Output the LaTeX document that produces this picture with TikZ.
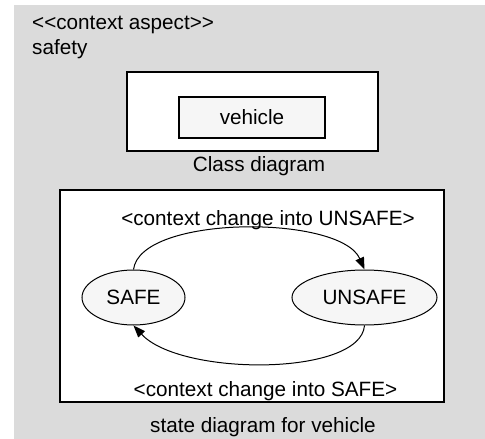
\documentclass[tikz,border=0pt]{standalone}
\usepackage{fontspec}
\setmainfont{Liberation Sans}
\usetikzlibrary{shapes.geometric,arrows.meta}
\definecolor{panelgray}{gray}{0.86}
\definecolor{statefill}{gray}{0.965}
\tikzset{
  lbl/.style={inner sep=0pt, font=\fontsize{20.7}{25}\selectfont},
  frame/.style={draw=black, line width=1.4pt, fill=white},
  classbox/.style={draw=black, line width=1.2pt, fill=statefill, minimum width=146pt, minimum height=41pt, inner sep=0pt, font=\fontsize{20.7}{25}\selectfont},
  statenode/.style={ellipse, draw=black, line width=1pt, fill=statefill, minimum height=55pt, inner sep=0pt, font=\fontsize{20.7}{25}\selectfont},
  trans/.style={draw=black, line width=1pt, -{Triangle[length=12pt,width=9pt]}}
}
\begin{document}
\begin{tikzpicture}[x=1pt,y=-1pt]
  \useasboundingbox (0,0) rectangle (485,439);
  % background panel of the context aspect
  \fill[panelgray] (14,5) rectangle (485,439);
  \node[lbl, anchor=west, align=left] (aspect) at (32,37) {{<}{<}context aspect{>}{>}\\safety};

  % class diagram
  \draw[frame] (127,72) rectangle (378,151);
  \node[classbox] (vehicle) at (252,117.5) {vehicle};
  \node[lbl] (classlbl) at (259,166) {Class diagram};

  % state diagram
  \draw[frame] (60,190) rectangle (444,402);
  \node[statenode, minimum width=103pt] (safe) at (133.5,297.5) {SAFE};
  \node[statenode, minimum width=145pt] (unsafe) at (364.5,297.5) {UNSAFE};
  \draw[trans] (safe.north) .. controls +(7,-55) and +(-24,-55) .. (unsafe.north);
  \draw[trans] (unsafe.south) .. controls +(-4,51) and +(47,51) .. (safe.south);
  \node[lbl] (toUnsafe) at (268,220) {<context change into UNSAFE>};
  \node[lbl] (toSafe) at (265.5,391) {<context change into SAFE>};

  \node[lbl] (statelbl) at (263,427) {state diagram for vehicle};
\end{tikzpicture}
\end{document}
